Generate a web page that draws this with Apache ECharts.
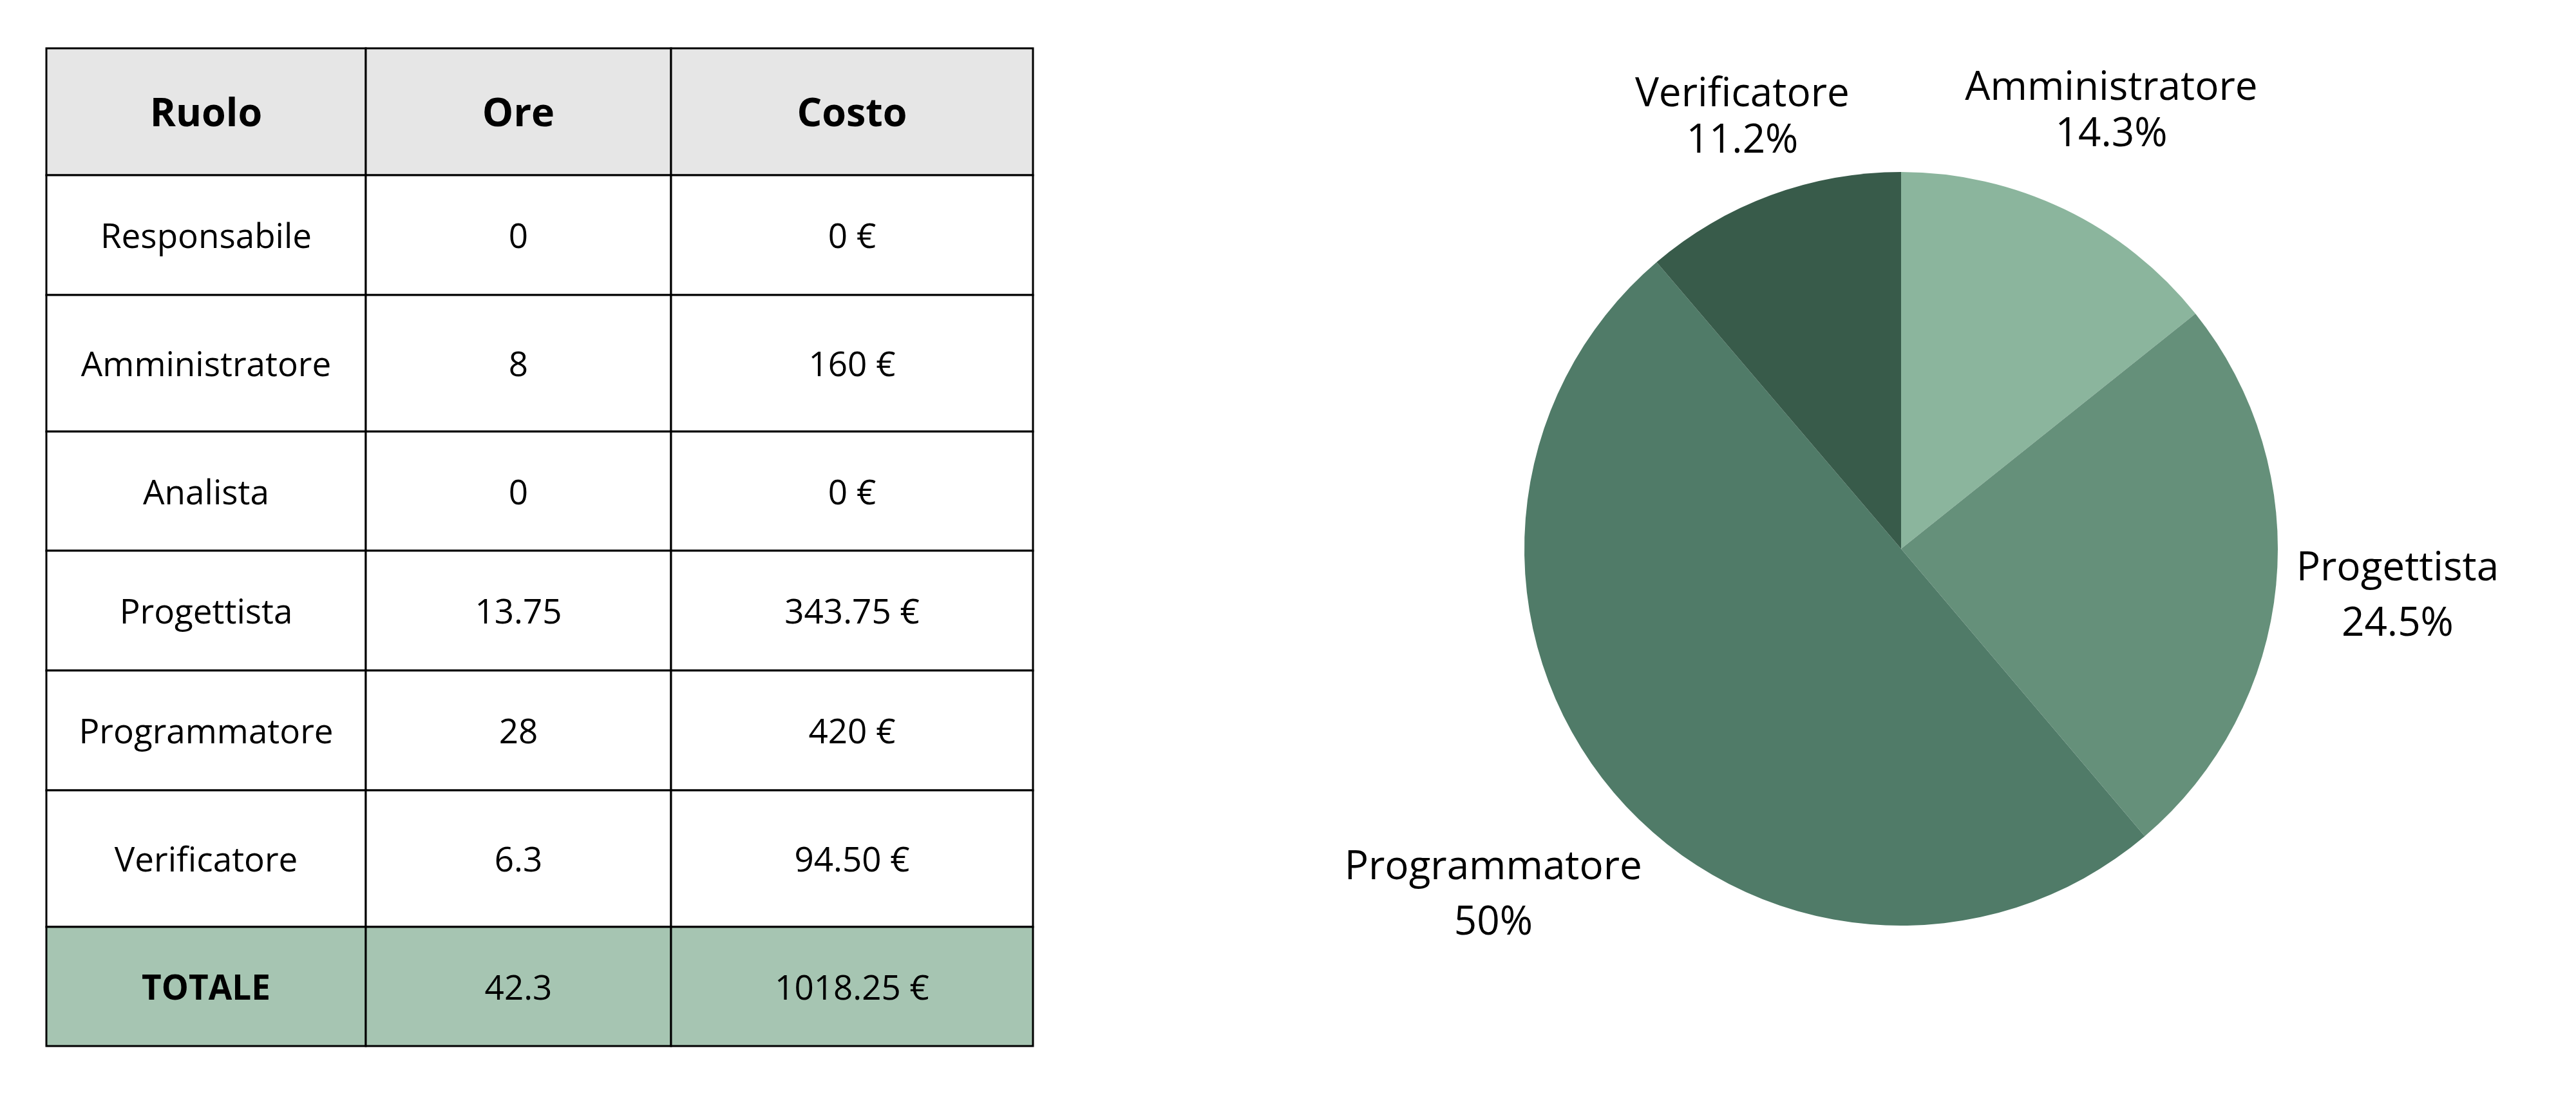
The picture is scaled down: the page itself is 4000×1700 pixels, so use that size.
<!DOCTYPE html>
<html>
<head>
<meta charset="utf-8">
<script src="https://cdn.jsdelivr.net/npm/echarts@6/dist/echarts.min.js"></script>
<style>
  html, body { margin: 0; padding: 0; background: #fff; }
  #chart { width: 4000px; height: 1700px; }
</style>
</head>
<body>
<div id="chart"></div>
<script>
// dati tabella
const headers = ['Ruolo', 'Ore', 'Costo']
const roles = ['Responsabile', 'Amministratore', 'Analista', 'Progettista', 'Programmatore', 'Verificatore']
const hours = [0, 8, 0, 13.75, 28, 6.3]
const costLabels = ['0 €', '160 €', '0 €', '343.75 €', '420 €', '94.50 €']
const totalRow = ['TOTALE', '42.3', '1018.25 €']

// colori
const pieColors = ['#8bb59d', '#65907a', '#507b68', '#385b4a']
const headerFill = '#e6e6e6'
const totalFill = '#a6c5b2'

// layout tabella (larghezze colonne / altezze righe in px)
const colW = [496, 474, 562]
const rowH = [197, 186, 212, 185, 186, 186, 212, 185]
const colEdge = colW.reduce((a, w) => { a.push(a[a.length - 1] + w); return a }, [0])
const rowEdge = rowH.reduce((a, h) => { a.push(a[a.length - 1] + h); return a }, [0])

// celle: [colonna, riga]
const cellText = []
const cells = []
const rows = [headers]
roles.forEach((r, i) => rows.push([r, String(hours[i]), costLabels[i]]))
rows.push(totalRow)
rows.forEach((row, r) => {
  row.forEach((t, c) => {
    cells.push([c, r])
    cellText.push(t)
  })
})

// torta: solo ruoli con ore > 0
const pieData = []
roles.forEach((r, i) => {
  if (hours[i] > 0) pieData.push({ name: r, value: hours[i] })
})
// le etichette laterali hanno interlinea piu' ampia
const labelLineHeights = [72, 86, 86, 72]
pieData.forEach((d, i) => {
  d.itemStyle = { color: pieColors[i] }
  d.label = { lineHeight: labelLineHeights[i] }
})

const pieCenter = [2952, 852]
const pieR = 585
const pieTotal = pieData.reduce((s, d) => s + d.value, 0)

function midAngle(idx) {
  let acc = 0
  for (let i = 0; i < idx; i++) acc += pieData[i].value
  return (acc + pieData[idx].value / 2) / pieTotal * Math.PI * 2
}

const chart = echarts.init(document.getElementById('chart'))

function renderCell(params, api) {
  const c = api.value(0)
  const r = api.value(1)
  const p0 = api.coord([colEdge[c], rowEdge[r]])
  const p1 = api.coord([colEdge[c + 1], rowEdge[r + 1]])
  const last = rowH.length - 1
  const fill = r === 0 ? headerFill : (r === last ? totalFill : '#ffffff')
  const bold = r === 0 || (r === last && c === 0)
  return {
    type: 'group',
    children: [{
      type: 'rect',
      shape: { x: p0[0], y: p0[1], width: p1[0] - p0[0], height: p1[1] - p0[1] },
      style: { fill, stroke: '#000', lineWidth: 3 }
    }, {
      type: 'text',
      x: (p0[0] + p1[0]) / 2,
      y: (p0[1] + p1[1]) / 2 + 5,
      style: {
        text: cellText[params.dataIndex],
        fill: '#000',
        fontFamily: 'Open Sans',
        fontSize: r === 0 ? 61 : 53,
        fontWeight: bold ? 'bold' : 'normal',
        align: 'center',
        verticalAlign: 'middle'
      }
    }]
  }
}

const option = {
  animation: false,
  backgroundColor: '#ffffff',
  grid: {
    left: 72,
    top: 75,
    width: colEdge[colEdge.length - 1],
    height: rowEdge[rowEdge.length - 1]
  },
  xAxis: {
    type: 'value',
    min: 0,
    max: colEdge[colEdge.length - 1],
    show: false
  },
  yAxis: {
    type: 'value',
    min: 0,
    max: rowEdge[rowEdge.length - 1],
    inverse: true,
    show: false
  },
  series: [{
    type: 'custom',
    renderItem: renderCell,
    data: cells,
    silent: true
  }, {
    type: 'pie',
    center: pieCenter,
    radius: pieR,
    startAngle: 90,
    clockwise: true,
    percentPrecision: 1,
    avoidLabelOverlap: false,
    silent: true,
    data: pieData,
    itemStyle: { borderWidth: 0 },
    label: {
      show: true,
      position: 'outside',
      formatter: '{b}\n{d}%',
      fontFamily: 'Open Sans',
      fontSize: 62,
      lineHeight: 72,
      color: '#000'
    },
    labelLine: { show: false },
    labelLayout: function (params) {
      // etichetta appoggiata fuori dal bordo, lungo la bisettrice della fetta
      const a = midAngle(params.dataIndex)
      const s = Math.sin(a)
      const c = Math.cos(a)
      const w = params.labelRect.width
      const h = params.labelRect.height
      const gap = 25 * s * s
      const d = pieR + gap + Math.abs(s) * w / 2 + Math.abs(c) * h / 2
      return {
        x: pieCenter[0] + d * s,
        y: pieCenter[1] - d * c,
        align: 'center',
        verticalAlign: 'middle'
      }
    }
  }]
}

chart.setOption(option)
</script>
</body>
</html>
